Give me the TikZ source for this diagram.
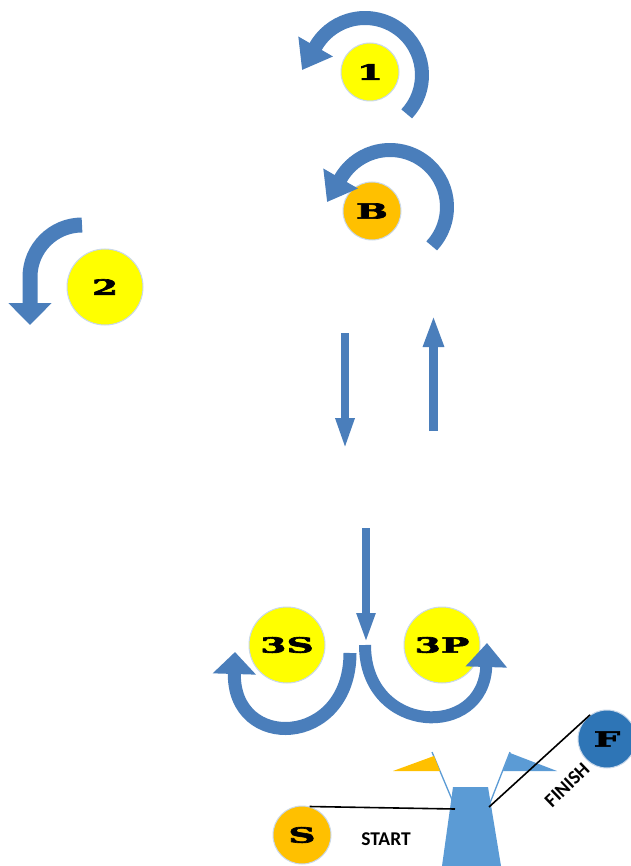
\documentclass[tikz,border=0pt]{standalone}
\usepackage{fontspec}
\usetikzlibrary{arrows.meta,calc}
\newfontfamily\heavyfont{DejaVu Serif}[FakeStretch=1.8,FakeBold=3]
\newfontfamily\labelfont{Carlito}
\definecolor{arrowblue}{HTML}{4A7EBB}
\definecolor{ylw}{HTML}{FFFF00}
\definecolor{orng}{HTML}{FFC000}
\definecolor{fblue}{HTML}{2E75B6}
\definecolor{towerblue}{HTML}{5B9BD5}
\definecolor{rim}{HTML}{C9D8EA}
\tikzset{
  ball/.style={circle, draw=rim, line width=1pt, inner sep=0pt, minimum size=#1,
    font=\heavyfont\bfseries\fontsize{21}{21}\selectfont},
  shaft/.style={draw=arrowblue, line cap=butt},
  headfill/.style={fill=arrowblue},
  caption/.style={font=\labelfont\bfseries\fontsize{19.5}{21}\selectfont},
  blackline/.style={draw=black, line width=1.6pt},
  pole/.style={draw=towerblue, line width=1.3pt}
}
\begin{document}
\begin{tikzpicture}[x=1pt,y=-1pt]
\useasboundingbox (0,0) rectangle (630,866);
\fill[white] (0,0) rectangle (630,866);

% circles
\node[ball=58pt, fill=ylw] (n1) at (370,72) {1};
\node[ball=58pt, fill=orng] (nB) at (372,211) {B};
\node[ball=76pt, fill=ylw] (n2) at (105,287) {2};
\node[ball=76pt, fill=ylw] (n3S) at (287,645) {3S};
\node[ball=76pt, fill=ylw] (n3P) at (442,645) {3P};

% curved arrow around 1
\coordinate (c1) at (365,75);
\draw[shaft, line width=14pt] ($(c1)+(43:57)$) arc[start angle=43, end angle=-151, radius=57];
\fill[headfill] ($(c1)+(-150:77)$) -- ($(c1)+(-150:37)$) -- ($(c1)+(-150:57)+(-240:27)$) -- cycle;

% curved arrow around B
\coordinate (cB) at (390,207);
\draw[shaft, line width=14pt] ($(cB)+(43:57)$) arc[start angle=43, end angle=-151, radius=57];
\fill[headfill] ($(cB)+(-150:77)$) -- ($(cB)+(-150:37)$) -- ($(cB)+(-150:57)+(-240:27)$) -- cycle;

% arrow near 2
\coordinate (a2s) at (82,225);
\coordinate (a2e) at (30,325);
\draw[shaft, line width=15pt, -{Triangle[width=42pt,length=22pt]}] (a2s) arc[start angle=-90, end angle=-180, radius=52] -- (a2e);

% straight arrows
\coordinate (d1s) at (345,333); \coordinate (d1e) at (345,450);
\draw[shaft, line width=8pt, -{Triangle[width=17pt,length=32pt]}] (d1s) -- (d1e);
\coordinate (u1s) at (433.5,431); \coordinate (u1e) at (433.5,315);
\draw[shaft, line width=9pt, -{Triangle[width=19pt,length=32pt]}] (u1s) -- (u1e);
\coordinate (d2s) at (366,528); \coordinate (d2e) at (366,643);
\draw[shaft, line width=8pt, -{Triangle[width=17pt,length=30pt]}] (d2s) -- (d2e);

% U arrows
\coordinate (s3a) at (350,653); \coordinate (s3b) at (235,652);
\draw[shaft, line width=13pt, -{Triangle[width=42pt,length=22pt]}] (s3a) .. controls (350,748) and (232,752) .. (s3b);
\coordinate (p3a) at (365,645); \coordinate (p3b) at (487,643);
\draw[shaft, line width=12pt, -{Triangle[width=40pt,length=24pt]}] (p3a) .. controls (365,735) and (484,740) .. (p3b);

% tower and flags
\coordinate (tTL) at (453,787); \coordinate (tTR) at (488,787);
\coordinate (tBR) at (501,866); \coordinate (tBL) at (442,866);
\fill[towerblue] (tTL) -- (tTR) -- (tBR) -- (tBL) -- cycle;
\draw[pole] (432,752) -- (453,802);
\draw[pole] (510,752) -- (490,803);
\fill[orng] (393,771) -- (434,756) -- (440,771) -- cycle;
\fill[towerblue] (510,753) -- (503,771) -- (557,771) -- cycle;

% start / finish
\node[ball=58pt, fill=orng] (nS) at (302,835) {S};
\node[ball=58pt, fill=fblue] (nF) at (607,739) {F};
\coordinate (tL) at (455,809);
\coordinate (tR) at (489,807);
\draw[blackline] (nS.75) -- (tL);
\draw[blackline] (tR) -- (nF.125);
\node[caption] (start) at (386,839) {START};
\node[caption, rotate=44] (finish) at (567,785) {FINISH};
\end{tikzpicture}
\end{document}
